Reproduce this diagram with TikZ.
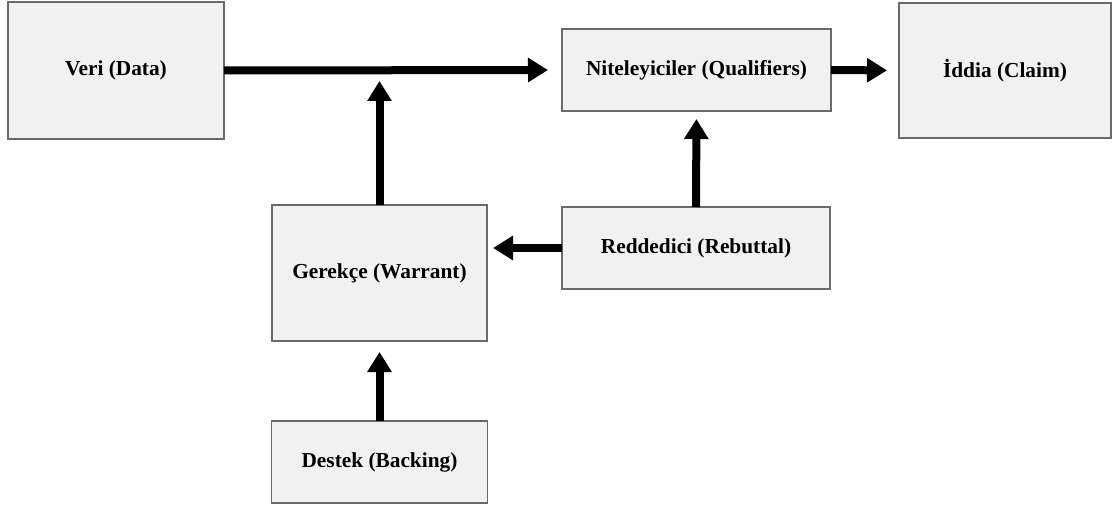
\documentclass[tikz,border=0pt]{standalone}
\usepackage{fontspec}
\setmainfont{Liberation Serif}
\usetikzlibrary{arrows.meta}
\definecolor{boxfill}{HTML}{F1F1F1}
\definecolor{boxline}{HTML}{6A6A6A}
\begin{document}
\begin{tikzpicture}[x=0.75pt,y=-0.75pt,
  box/.style={draw=boxline,line width=0.9pt,fill=boxfill,inner sep=0pt,outer sep=0pt,
    font=\fontsize{16}{19}\selectfont\bfseries,align=center},
  conn/.style={line width=6pt,-{Triangle[length=15pt,width=17.5pt]}}]
\useasboundingbox (0,0) rectangle (1114,506);
\node[box,minimum width=162pt,minimum height=102.75pt] (veri) at (116,70.5) {Veri (Data)};
\node[box,minimum width=201.75pt,minimum height=61.5pt] (qual) at (696.5,70) {Niteleyiciler (Qualifiers)};
\node[box,minimum width=159pt,minimum height=101.25pt] (claim) at (1005,70.5) {İddia (Claim)};
\node[box,minimum width=161.25pt,minimum height=102pt] (war) at (379.5,273) {Gerekçe (Warrant)};
\node[box,minimum width=201pt,minimum height=61.5pt] (reb) at (696,248) {Reddedici (Rebuttal)};
\node[box,minimum width=162pt,minimum height=61.5pt] (back) at (379.5,462) {Destek (Backing)};
\coordinate (wt) at (379.5,81);
\draw[conn,shorten >=10.5pt] (veri.east) -- (qual.west);
\draw[conn] (war.north) -- (wt);
\draw[conn,shorten >=9pt] (qual.east) -- (claim.west);
\draw[conn,shorten >=6pt] (reb.north) -- (qual.south);
\draw[conn,shorten >=4.5pt] (reb.west) -- (reb.west -| war.east);
\draw[conn,shorten >=8.25pt] (back.north) -- (war.south);
\end{tikzpicture}
\end{document}
